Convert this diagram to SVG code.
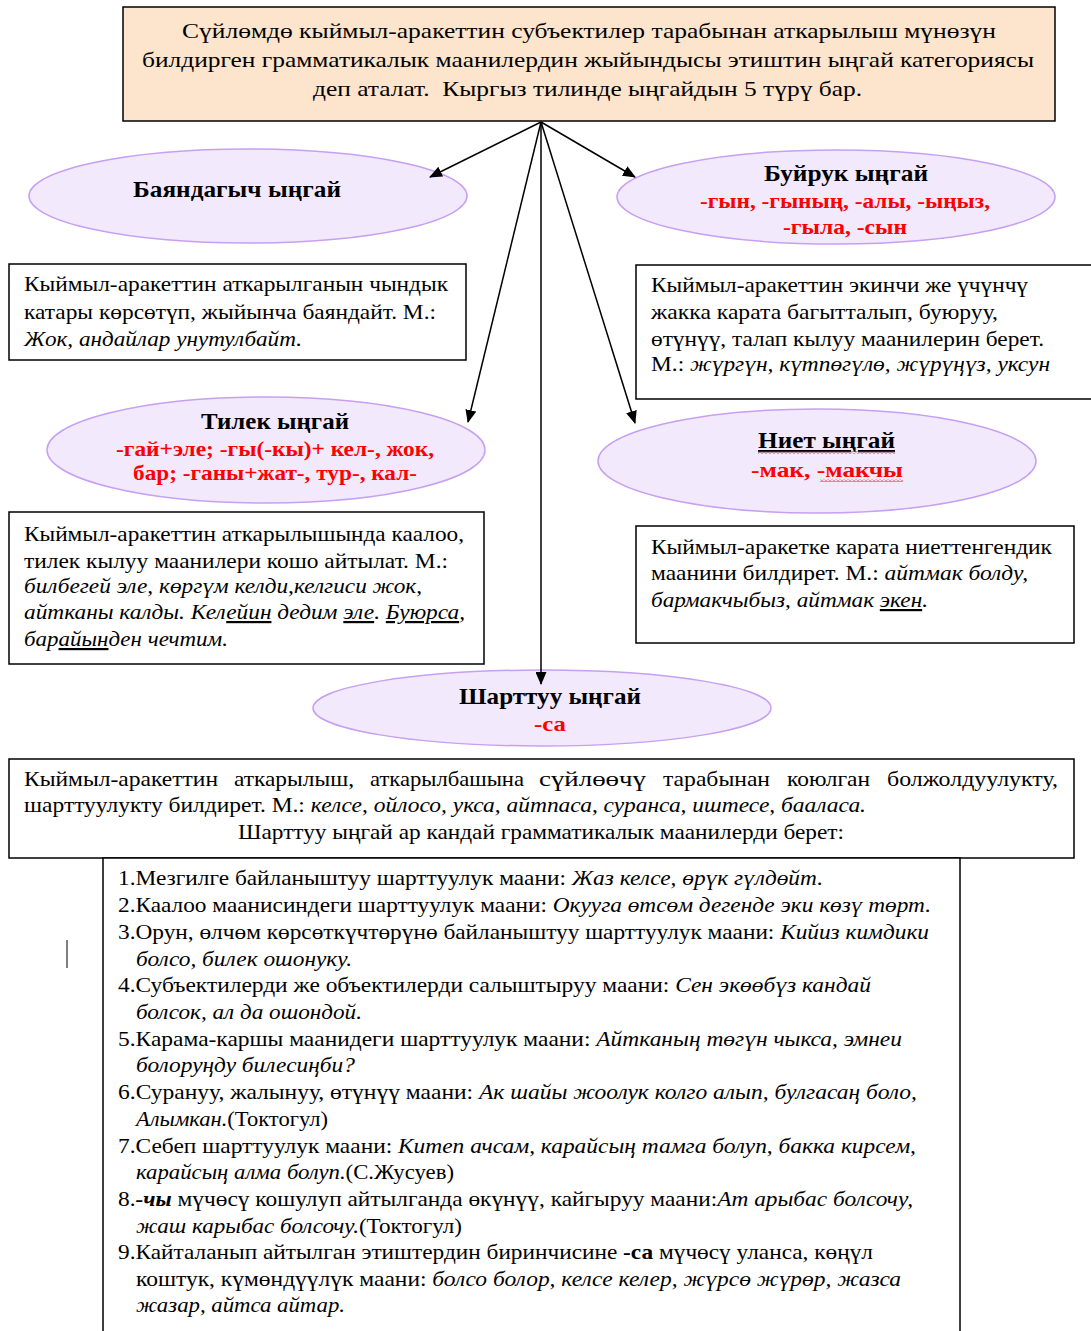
<svg xmlns="http://www.w3.org/2000/svg" width="1091" height="1331" viewBox="0 0 1091 1331">
<defs>
<style>
text{font-family:"Liberation Serif","Times New Roman",serif;font-size:22px;fill:#000}
.i{font-style:italic}
.b{font-weight:bold}
.ti{font-weight:bold;font-size:23px}
.r{fill:#ff0000;font-weight:bold;font-size:21px}
.li{font-size:21px}
.u{text-decoration:underline}
.box{fill:#fff;stroke:#000;stroke-width:1.5}
.ell{fill:#f2e9fd;stroke:#c79ff3;stroke-width:1.5}
.conn line{stroke:#000;stroke-width:1.5;marker-end:url(#arr)}
</style>
<marker id="arr" markerUnits="userSpaceOnUse" markerWidth="13" markerHeight="11" refX="12" refY="5.5" orient="auto">
<path d="M0,0 L13,5.5 L0,11 z" fill="#000"/>
</marker>
<pattern id="wavy" patternUnits="userSpaceOnUse" width="4" height="3">
<path d="M0,2.5 L2,0.5 L4,2.5" fill="none" stroke="#ff0000" stroke-width="0.9"/>
</pattern>
</defs>

<g id="top">
<rect x="123" y="7" width="932" height="114" fill="#fde4cc" stroke="#000" stroke-width="1.5"/>
<text x="182" y="38" textLength="814" lengthAdjust="spacingAndGlyphs">Сүйлөмдө кыймыл-аракеттин субъектилер тарабынан аткарылыш мүнөзүн</text>
<text x="142" y="67" textLength="892" lengthAdjust="spacingAndGlyphs">билдирген грамматикалык маанилердин жыйындысы этиштин ыңгай категориясы</text>
<text x="313" y="96" textLength="549" lengthAdjust="spacingAndGlyphs" xml:space="preserve">деп аталат.  Кыргыз тилинде ыңгайдын 5 түрү бар.</text>
</g>

<g id="bayandagych">
<ellipse class="ell" cx="248" cy="196" rx="219" ry="47"/>
<text class="ti" x="133" y="197" textLength="208" lengthAdjust="spacingAndGlyphs">Баяндагыч ыңгай</text>
</g>

<g id="buyruk">
<ellipse class="ell" cx="836" cy="197" rx="219" ry="47"/>
<text class="ti" x="764" y="181" textLength="164" lengthAdjust="spacingAndGlyphs">Буйрук ыңгай</text>
<text class="r" x="700" y="208" textLength="290" lengthAdjust="spacingAndGlyphs">-гын, -гының, -алы, -ыңыз,</text>
<text class="r" x="783" y="234" textLength="124" lengthAdjust="spacingAndGlyphs">-гыла, -сын</text>
</g>

<g id="box-bayandagych">
<rect class="box" x="9" y="264" width="457" height="96"/>
<text x="24" y="291" textLength="424" lengthAdjust="spacingAndGlyphs">Кыймыл-аракеттин аткарылганын чындык</text>
<text x="24" y="319" textLength="412" lengthAdjust="spacingAndGlyphs">катары көрсөтүп, жыйынча баяндайт. М.:</text>
<text class="i" x="24" y="346" textLength="278" lengthAdjust="spacingAndGlyphs">Жок, андайлар унутулбайт.</text>
</g>

<g id="box-buyruk">
<rect class="box" x="636" y="265" width="470" height="134"/>
<text x="651" y="292" textLength="377" lengthAdjust="spacingAndGlyphs">Кыймыл-аракеттин экинчи же үчүнчү</text>
<text x="651" y="319" textLength="347" lengthAdjust="spacingAndGlyphs">жакка карата багытталып, буюруу,</text>
<text x="651" y="346" textLength="393" lengthAdjust="spacingAndGlyphs">өтүнүү, талап кылуу маанилерин берет.</text>
<text x="651" y="371" textLength="399" lengthAdjust="spacingAndGlyphs">М.: <tspan class="i">жүргүн, күтпөгүлө, жүрүңүз, уксун</tspan></text>
</g>

<g id="tilek">
<ellipse class="ell" cx="266" cy="450" rx="219" ry="53"/>
<text class="ti" x="201" y="429" textLength="148" lengthAdjust="spacingAndGlyphs">Тилек ыңгай</text>
<text class="r" x="116" y="456" textLength="318" lengthAdjust="spacingAndGlyphs">-гай+эле; -гы(-кы)+ кел-, жок,</text>
<text class="r" x="133" y="480" textLength="284" lengthAdjust="spacingAndGlyphs">бар; -ганы+жат-, тур-, кал-</text>
</g>

<g id="niet">
<ellipse class="ell" cx="817" cy="461" rx="219" ry="52"/>
<text class="ti u" x="758" y="448" textLength="137" lengthAdjust="spacingAndGlyphs">Ниет ыңгай</text>
<rect x="758" y="451" width="137" height="3" fill="url(#wavy)"/>
<text class="r" x="751" y="477" textLength="152" lengthAdjust="spacingAndGlyphs">-мак, -макчы</text>
<rect x="820" y="479" width="83" height="3" fill="url(#wavy)"/>
</g>

<g id="box-tilek">
<rect class="box" x="9" y="512" width="475" height="152"/>
<text x="24" y="541" textLength="440" lengthAdjust="spacingAndGlyphs">Кыймыл-аракеттин аткарылышында каалоо,</text>
<text x="24" y="568" textLength="424" lengthAdjust="spacingAndGlyphs">тилек кылуу маанилери кошо айтылат. М.:</text>
<text class="i" x="24" y="593" textLength="398" lengthAdjust="spacingAndGlyphs">билбегей эле, көргүм келди,келгиси жок,</text>
<text class="i" x="24" y="619" textLength="441" lengthAdjust="spacingAndGlyphs">айтканы калды. Кел<tspan class="u">ейин</tspan> дедим <tspan class="u">эле</tspan>. <tspan class="u">Буюрса</tspan>,</text>
<text class="i" x="24" y="646" textLength="204" lengthAdjust="spacingAndGlyphs">бар<tspan class="u">айын</tspan>ден чечтим.</text>
</g>

<g id="box-niet">
<rect class="box" x="636" y="526" width="438" height="117"/>
<text x="651" y="554" textLength="401" lengthAdjust="spacingAndGlyphs">Кыймыл-аракетке карата ниеттенгендик</text>
<text x="651" y="580" textLength="377" lengthAdjust="spacingAndGlyphs">маанини билдирет. М.: <tspan class="i">айтмак болду,</tspan></text>
<text class="i" x="651" y="607" textLength="277" lengthAdjust="spacingAndGlyphs">бармакчыбыз, айтмак <tspan class="u">экен</tspan>.</text>
</g>

<g id="sharttuu">
<ellipse class="ell" cx="542" cy="708" rx="229" ry="38"/>
<text class="ti" x="459" y="704" textLength="182" lengthAdjust="spacingAndGlyphs">Шарттуу ыңгай</text>
<text class="r" x="534" y="731" textLength="32" lengthAdjust="spacingAndGlyphs">-са</text>
</g>

<g id="box-sharttuu">
<rect class="box" x="9" y="759" width="1065" height="99"/>
<text x="24" y="786" textLength="194" lengthAdjust="spacingAndGlyphs">Кыймыл-аракеттин</text>
<text x="234" y="786" textLength="120" lengthAdjust="spacingAndGlyphs">аткарылыш,</text>
<text x="370" y="786" textLength="154" lengthAdjust="spacingAndGlyphs">аткарылбашына</text>
<text x="539" y="786" textLength="107" lengthAdjust="spacingAndGlyphs">сүйлөөчү</text>
<text x="663" y="786" textLength="107" lengthAdjust="spacingAndGlyphs">тарабынан</text>
<text x="787" y="786" textLength="83" lengthAdjust="spacingAndGlyphs">коюлган</text>
<text x="887" y="786" textLength="171" lengthAdjust="spacingAndGlyphs">болжолдуулукту,</text>
<text x="24" y="812" textLength="842" lengthAdjust="spacingAndGlyphs">шарттуулукту билдирет. М.: <tspan class="i">келсе, ойлосо, укса, айтпаса, суранса, иштесе, бааласа.</tspan></text>
<text x="238" y="839" textLength="606" lengthAdjust="spacingAndGlyphs">Шарттуу ыңгай ар кандай грамматикалык маанилерди берет:</text>
</g>

<g id="list">
<rect class="box" x="103" y="858" width="857" height="490"/>
<text class="li" x="118" y="885" textLength="705" lengthAdjust="spacingAndGlyphs">1.Мезгилге байланыштуу шарттуулук маани: <tspan class="i">Жаз келсе, өрүк гүлдөйт.</tspan></text>
<text class="li" x="118" y="912" textLength="813" lengthAdjust="spacingAndGlyphs">2.Каалоо маанисиндеги шарттуулук маани: <tspan class="i">Окууга өтсөм дегенде эки көзү төрт.</tspan></text>
<text class="li" x="118" y="939" textLength="811" lengthAdjust="spacingAndGlyphs">3.Орун, өлчөм көрсөткүчтөрүнө байланыштуу шарттуулук маани: <tspan class="i">Кийиз кимдики</tspan></text>
<text class="li i" x="136" y="966" textLength="216" lengthAdjust="spacingAndGlyphs">болсо, билек ошонуку.</text>
<text class="li" x="118" y="992" textLength="753" lengthAdjust="spacingAndGlyphs">4.Субъектилерди же объектилерди салыштыруу маани: <tspan class="i">Сен экөөбүз кандай</tspan></text>
<text class="li i" x="136" y="1019" textLength="226" lengthAdjust="spacingAndGlyphs">болсок, ал да ошондой.</text>
<text class="li" x="118" y="1046" textLength="784" lengthAdjust="spacingAndGlyphs">5.Карама-каршы маанидеги шарттуулук маани: <tspan class="i">Айтканың төгүн чыкса, эмнеи</tspan></text>
<text class="li i" x="136" y="1072" textLength="219" lengthAdjust="spacingAndGlyphs">болоруңду билесиңби?</text>
<text class="li" x="118" y="1099" textLength="799" lengthAdjust="spacingAndGlyphs">6.Сурануу, жалынуу, өтүнүү маани: <tspan class="i">Ак шайы жоолук колго алып, булгасаң боло,</tspan></text>
<text class="li" x="136" y="1126" textLength="192" lengthAdjust="spacingAndGlyphs"><tspan class="i">Алымкан.</tspan>(Токтогул)</text>
<text class="li" x="118" y="1153" textLength="798" lengthAdjust="spacingAndGlyphs">7.Себеп шарттуулук маани: <tspan class="i">Китеп ачсам, карайсың тамга болуп, бакка кирсем,</tspan></text>
<text class="li" x="136" y="1179" textLength="318" lengthAdjust="spacingAndGlyphs"><tspan class="i">карайсың алма болуп.</tspan>(С.Жусуев)</text>
<text class="li" x="118" y="1206" textLength="795" lengthAdjust="spacingAndGlyphs">8.<tspan class="i b">-чы</tspan> мүчөсү кошулуп айтылганда өкүнүү, кайгыруу маани:<tspan class="i">Ат арыбас болсочу,</tspan></text>
<text class="li" x="136" y="1233" textLength="326" lengthAdjust="spacingAndGlyphs"><tspan class="i">жаш карыбас болсочу.</tspan>(Токтогул)</text>
<text class="li" x="118" y="1259" textLength="755" lengthAdjust="spacingAndGlyphs">9.Кайталанып айтылган этиштердин биринчисине <tspan class="b">-са</tspan> мүчөсү уланса, көңүл</text>
<text class="li" x="136" y="1286" textLength="765" lengthAdjust="spacingAndGlyphs">коштук, күмөндүүлүк маани: <tspan class="i">болсо болор, келсе келер, жүрсө жүрөр, жазса</tspan></text>
<text class="li i" x="136" y="1312" textLength="209" lengthAdjust="spacingAndGlyphs">жазар, айтса айтар.</text>
</g>

<line x1="67" y1="940" x2="67" y2="968" stroke="#000" stroke-width="1"/>

<g id="connectors" class="conn">
<line x1="541" y1="122" x2="430" y2="177"/>
<line x1="541" y1="122" x2="635" y2="177"/>
<line x1="541" y1="122" x2="468" y2="422"/>
<line x1="541" y1="122" x2="635" y2="423"/>
<line x1="541" y1="122" x2="541" y2="684"/>
</g>
</svg>
